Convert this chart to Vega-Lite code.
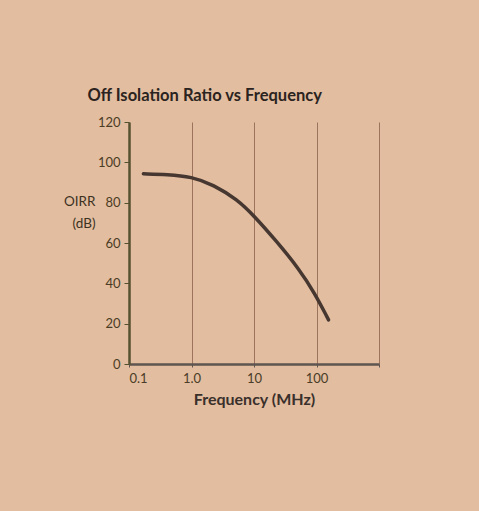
{
  "$schema": "https://vega.github.io/schema/vega-lite/v6.json",
  "autosize": {"type": "none"},
  "width": 250,
  "height": 242,
  "padding": {"left": 129, "top": 122, "right": 100, "bottom": 147},
  "background": "#e2bd9f",
  "config": {
    "view": {"stroke": null},
    "font": "Lato"
  },
  "title": {
    "text": "Off Isolation Ratio vs Frequency",
    "anchor": "start",
    "offset": 12,
    "dx": 24,
    "fontSize": 16.5,
    "fontWeight": "bold",
    "color": "#2b2320",
    "font": "Lato"
  },
  "data": {
    "values": [
      {"freq": 0.17, "oirr": 94.3},
      {"freq": 0.41, "oirr": 94.0},
      {"freq": 1.0, "oirr": 92.9},
      {"freq": 2.25, "oirr": 88.9},
      {"freq": 5.36, "oirr": 81.6},
      {"freq": 10.0, "oirr": 73.5},
      {"freq": 22.7, "oirr": 61.0},
      {"freq": 53.0, "oirr": 47.0},
      {"freq": 92.7, "oirr": 35.3},
      {"freq": 156, "oirr": 21.9}
    ]
  },
  "mark": {"type": "line", "interpolate": "basis", "color": "#463731", "strokeWidth": 3.5, "strokeCap": "round"},
  "encoding": {
    "x": {
      "field": "freq",
      "type": "quantitative",
      "scale": {"type": "log", "domain": [0.1, 1000]},
      "axis": {
        "values": [0.1, 1, 10, 100, 1000],
        "labelExpr": "datum.value == 1 ? '1.0' : (datum.value == 1000 ? '' : datum.value == 0.1 ? '0.1' : format(datum.value, 'd'))",
        "title": "Frequency (MHz)",
        "titleFontSize": 16,
        "titleFontWeight": "bold",
        "titleColor": "#3a302c",
        "titlePadding": 6,
        "labelFontSize": 13,
        "labelColor": "#4a3c28",
        "labelPadding": 5,
        "domainColor": "#5e5450",
        "domainWidth": 2.5,
        "tickColor": "#5e5450",
        "tickSize": 3,
        "grid": true,
        "gridColor": "#8f6650",
        "gridWidth": 1,
        "gridOpacity": 0.85
      }
    },
    "y": {
      "field": "oirr",
      "type": "quantitative",
      "scale": {"domain": [0, 120]},
      "axis": {
        "values": [0, 20, 40, 60, 80, 100, 120],
        "title": ["OIRR", "", "(dB)"],
        "titleAngle": 0,
        "titleAlign": "right",
        "titleBaseline": "top",
        "titleX": -34,
        "titleY": 72,
        "titleLineHeight": 22,
        "titleFontSize": 13.5,
        "titleFontWeight": "normal",
        "titleColor": "#3d321f",
        "labelFontSize": 13,
        "labelColor": "#4a3c24",
        "labelPadding": 4,
        "domainColor": "#565230",
        "domainWidth": 2.5,
        "tickColor": "#565230",
        "tickSize": 5,
        "grid": false
      }
    }
  }
}
